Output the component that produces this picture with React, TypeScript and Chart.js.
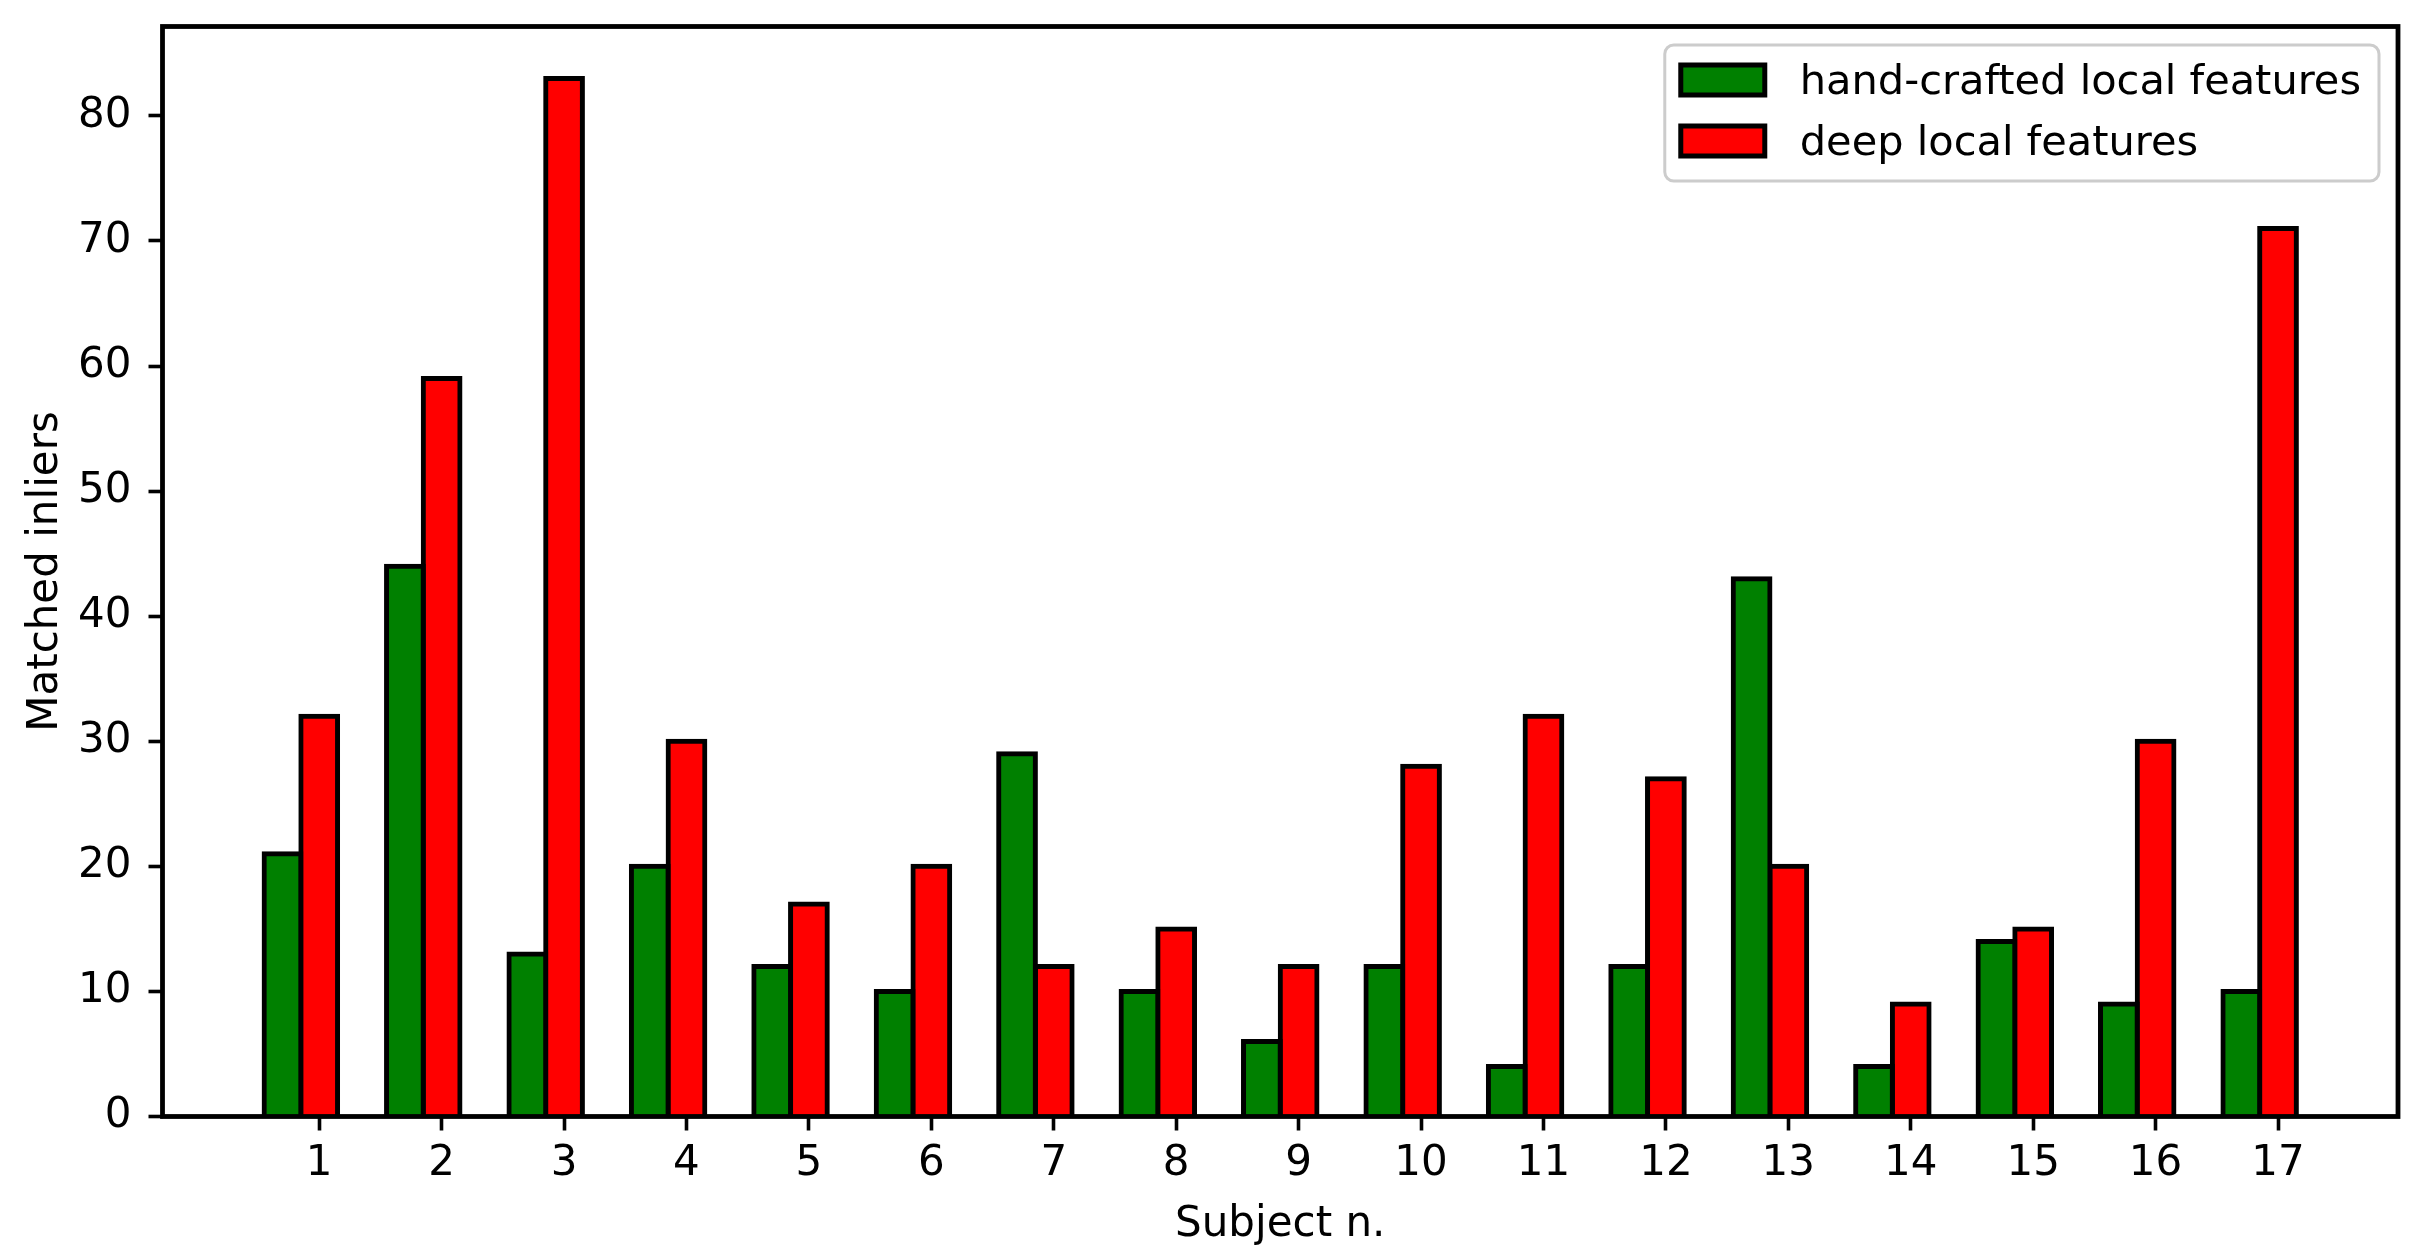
import React, { useEffect, useRef } from 'react';
import { Chart, registerables } from 'chart.js';

Chart.register(...registerables);

// ---- data ----
const subjects = [1, 2, 3, 4, 5, 6, 7, 8, 9, 10, 11, 12, 13, 14, 15, 16, 17];
const handCrafted = [21, 44, 13, 20, 12, 10, 29, 10, 6, 12, 4, 12, 43, 4, 14, 9, 10];
const deepFeatures = [32, 59, 83, 30, 17, 20, 12, 15, 12, 28, 32, 27, 20, 9, 15, 30, 71];
const yTickValues = [0, 10, 20, 30, 40, 50, 60, 70, 80];
const seriesLabels = ['hand-crafted local features', 'deep local features'];
const seriesColors = ['#008000', '#ff0000'];
const xAxisLabel = 'Subject n.';
const yAxisLabel = 'Matched inliers';

// ---- layout / style constants ----
const BAR_WIDTH = 0.3; // in x units; hand-crafted bar sits one bar-width left of the tick
const X_MIN = -0.28;
const X_MAX = 17.98;
const Y_MIN = 0;
const Y_MAX = 87.15;
const FONT = 'DejaVu Sans';
const FONT_SIZE = 42;
const LEGEND_FONT_SIZE = 41.5;
const LINE_W = 4.8;
const BAR_EDGE_W = 5;

const framePlugin = {
  id: 'mplFrame',
  afterDatasetsDraw(chart: any) {
    const { ctx, chartArea: a } = chart;
    ctx.save();
    ctx.lineWidth = LINE_W;
    ctx.strokeStyle = '#000';
    ctx.strokeRect(a.left, a.top, a.right - a.left, a.bottom - a.top);
    ctx.restore();
  },
};

const legendPlugin = {
  id: 'mplLegend',
  afterDraw(chart: any) {
    const { ctx, chartArea: a } = chart;
    const ds = chart.data.datasets;
    ctx.save();
    ctx.font = `${LEGEND_FONT_SIZE}px "${FONT}"`;
    const textW = Math.max(...ds.map((d: any) => ctx.measureText(d.label).width));
    const padL = 16;
    const handleW = 84;
    const handleH = 30;
    const gap = 35;
    const padR = 18;
    const rowH = 61;
    const firstRow = 35;
    const h = 136;
    const right = a.right - 19;
    const top = a.top + 18.5;
    const w = padL + handleW + gap + textW + padR;
    const left = right - w;
    ctx.beginPath();
    (ctx as any).roundRect(left, top, w, h, 9);
    ctx.fillStyle = 'rgba(255,255,255,0.8)';
    ctx.fill();
    ctx.lineWidth = 3;
    ctx.strokeStyle = '#cccccc';
    ctx.stroke();
    ds.forEach((d: any, i: number) => {
      const cy = top + firstRow + i * rowH;
      const hx = left + padL;
      ctx.fillStyle = d.backgroundColor;
      ctx.fillRect(hx, cy - handleH / 2, handleW, handleH);
      ctx.lineWidth = BAR_EDGE_W;
      ctx.strokeStyle = '#000';
      ctx.strokeRect(hx, cy - handleH / 2, handleW, handleH);
      ctx.fillStyle = '#000';
      ctx.textAlign = 'left';
      ctx.textBaseline = 'alphabetic';
      ctx.fillText(d.label, hx + handleW + gap, cy + 13.5);
    });
    ctx.restore();
  },
};

export default function App() {
  const canvasRef = useRef<HTMLCanvasElement | null>(null);

  useEffect(() => {
    const canvas = canvasRef.current;
    if (!canvas) return;

    // edge centred on the bar outline, like matplotlib: border of BAR_EDGE_W
    // pushed outward by half its width.
    const barStyle = {
      borderColor: '#000',
      borderWidth: BAR_EDGE_W,
      inflateAmount: BAR_EDGE_W / 2,
      borderSkipped: 'start' as const,
      grouped: false,
      categoryPercentage: 1,
      barPercentage: 1,
    };

    const chart = new Chart(canvas, {
      type: 'bar',
      data: {
        datasets: [
          {
            label: seriesLabels[0],
            data: subjects.map((s, i) => ({ x: s - BAR_WIDTH, y: handCrafted[i] })),
            backgroundColor: seriesColors[0],
            ...barStyle,
          },
          {
            label: seriesLabels[1],
            data: subjects.map((s, i) => ({ x: s, y: deepFeatures[i] })),
            backgroundColor: seriesColors[1],
            ...barStyle,
          },
        ],
      },
      options: {
        responsive: false,
        animation: false,
        devicePixelRatio: 1,
        layout: { padding: { left: 0, top: 26.5, right: 16, bottom: 0 } },
        plugins: {
          legend: { display: false },
          tooltip: { enabled: false },
          title: { display: false },
        },
        scales: {
          x: {
            type: 'linear',
            min: X_MIN,
            max: X_MAX,
            offset: false,
            grid: {
              offset: false,
              drawOnChartArea: false,
              drawTicks: true,
              tickLength: 14,
              tickWidth: 3.6,
              tickColor: '#000',
            },
            border: { display: false },
            afterBuildTicks: (scale: any) => {
              scale.ticks = subjects.map((v) => ({ value: v }));
            },
            afterFit: (scale: any) => {
              scale.height = 1260 - 1116.5;
              scale.paddingLeft = 0;
              scale.paddingRight = 0;
            },
            ticks: {
              autoSkip: false,
              maxRotation: 0,
              minRotation: 0,
              padding: 13,
              color: '#000',
              font: { family: FONT, size: FONT_SIZE, lineHeight: 1 },
              callback: (v: any) => String(v),
            },
            title: {
              display: true,
              text: xAxisLabel,
              color: '#000',
              font: { family: FONT, size: FONT_SIZE, lineHeight: 1 },
              padding: { top: 0, bottom: 14 },
            },
          },
          y: {
            type: 'linear',
            min: Y_MIN,
            max: Y_MAX,
            grid: {
              drawOnChartArea: false,
              drawTicks: true,
              tickLength: 14,
              tickWidth: 3.6,
              tickColor: '#000',
            },
            border: { display: false },
            afterBuildTicks: (scale: any) => {
              scale.ticks = yTickValues.map((v) => ({ value: v }));
            },
            afterFit: (scale: any) => {
              scale.width = 162.5;
              scale.paddingTop = 0;
              scale.paddingBottom = 0;
            },
            ticks: {
              padding: 17,
              color: '#000',
              font: { family: FONT, size: FONT_SIZE, lineHeight: 1 },
              callback: (v: any) => String(v),
            },
            title: {
              display: true,
              text: yAxisLabel,
              color: '#000',
              font: { family: FONT, size: FONT_SIZE, lineHeight: 1 },
              padding: { top: 25, bottom: 0 },
            },
          },
        },
      },
      plugins: [framePlugin, legendPlugin],
    } as any);

    return () => chart.destroy();
  }, []);

  return (
    <div style={{ position: 'absolute', left: 0, top: 0, width: 2414, height: 1260, background: '#fff' }}>
      <canvas ref={canvasRef} width={2414} height={1260} style={{ display: 'block' }} />
    </div>
  );
}
